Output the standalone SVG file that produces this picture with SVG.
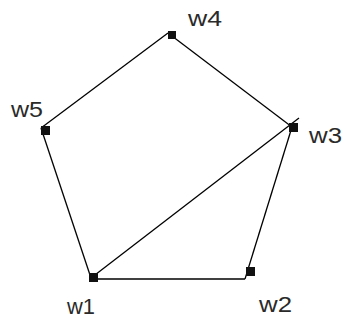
<svg xmlns="http://www.w3.org/2000/svg" width="346" height="320" viewBox="0 0 346 320">
<style>
.e{stroke:#000;stroke-width:1.3;fill:none}
.n{fill:#111}
text{font-family:"Liberation Sans",Arial,sans-serif;font-size:22px;fill:#2a2a2a}
</style>
<rect width="346" height="320" fill="#fff"/>
<g id="connectors">
<line class="e" x1="91" y1="278" x2="41" y2="128"/>
<line class="e" x1="41" y1="128" x2="168" y2="33"/>
<line class="e" x1="168" y1="33" x2="292" y2="127"/>
<line class="e" x1="292" y1="127" x2="245" y2="279"/>
<line class="e" x1="245" y1="279" x2="91" y2="279"/>
<line class="e" x1="91" y1="278" x2="299" y2="118"/>
</g>
<g id="w1"><rect class="n" x="89" y="273" width="9" height="9"/><text x="67" y="314" textLength="28" lengthAdjust="spacingAndGlyphs">w1</text></g>
<g id="w2"><rect class="n" x="246" y="267" width="9" height="9"/><text x="259" y="312" textLength="33" lengthAdjust="spacingAndGlyphs">w2</text></g>
<g id="w3"><rect class="n" x="289" y="123" width="9" height="9"/><text x="309" y="143" textLength="33" lengthAdjust="spacingAndGlyphs">w3</text></g>
<g id="w4"><rect class="n" x="168" y="31" width="8" height="8"/><text x="188" y="26" textLength="34" lengthAdjust="spacingAndGlyphs">w4</text></g>
<g id="w5"><rect class="n" x="41" y="126" width="9" height="9"/><text x="11" y="117" textLength="32" lengthAdjust="spacingAndGlyphs">w5</text></g>
</svg>
